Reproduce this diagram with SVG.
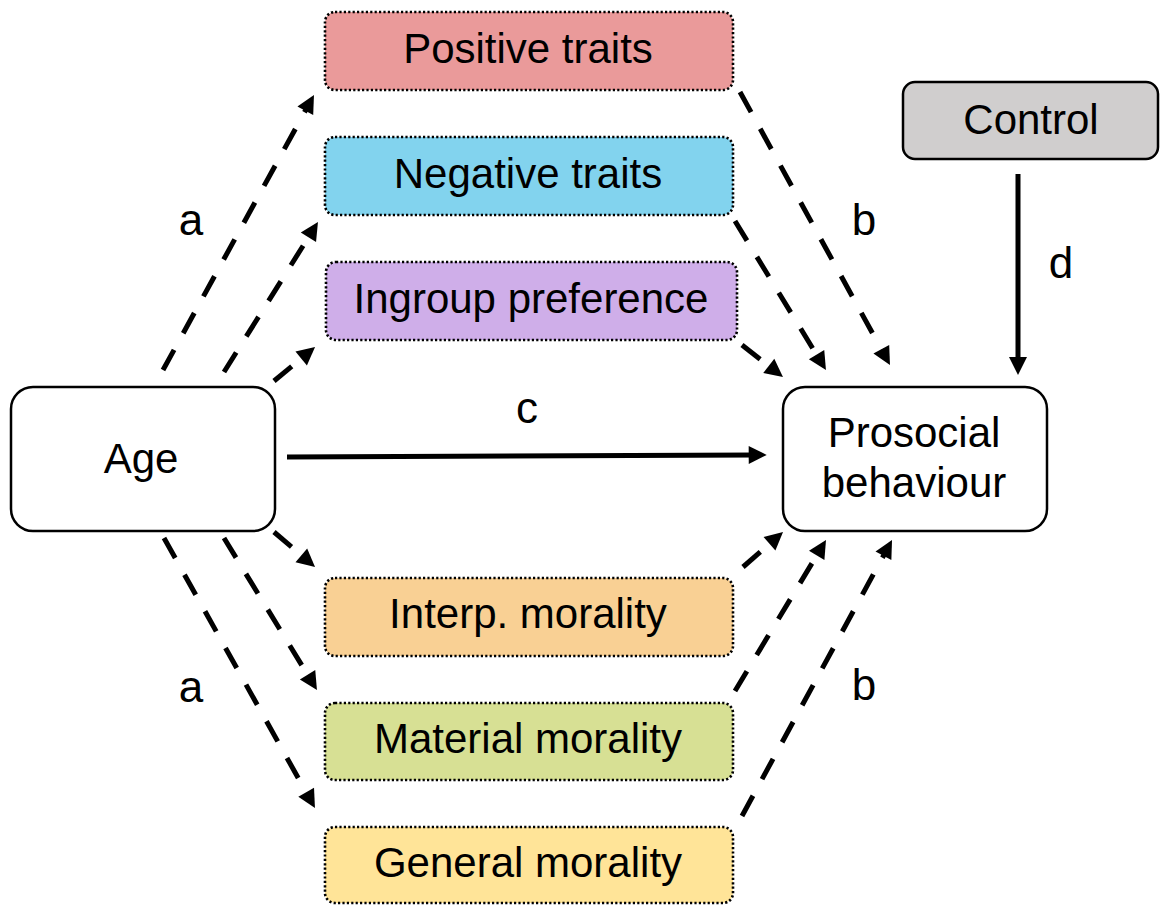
<svg xmlns="http://www.w3.org/2000/svg" width="1160" height="910" viewBox="0 0 1160 910">
<style>
  .lbl { font-family: "Liberation Sans", Arial, sans-serif; font-size: 42px; fill: #000; text-anchor: middle; }
  .path-lbl { font-family: "Liberation Sans", Arial, sans-serif; font-size: 44px; fill: #000; text-anchor: middle; }
  .med { stroke: #000; stroke-width: 2.6; stroke-dasharray: 2.2 2.2; }
  .main { fill: #fff; stroke: #000; stroke-width: 2.5; }
  .dash { fill: none; stroke: #000; stroke-width: 5; stroke-dasharray: 23 19; marker-end: url(#ah); }
  .solid { fill: none; stroke: #000; stroke-width: 5; marker-end: url(#ah); }
</style>
<defs>
  <marker id="ah" markerUnits="userSpaceOnUse" markerWidth="18" markerHeight="18" refX="6" refY="9" orient="auto" overflow="visible">
    <path d="M0,0 L18,9 L0,18 z" fill="#000"/>
  </marker>
</defs>
<rect width="1160" height="910" fill="#fff"/>

<g id="connectors">
  <line class="dash" x1="163" y1="370" x2="308.2" y2="105.5"/>
  <line class="dash" x1="224" y1="372" x2="311.6" y2="232.2"/>
  <line class="dash" x1="274" y1="381" x2="305.8" y2="354.7"/>
  <line class="dash" x1="274" y1="532" x2="305.9" y2="559.2"/>
  <line class="dash" x1="224" y1="538" x2="310.7" y2="679.8"/>
  <line class="dash" x1="164" y1="538" x2="309.1" y2="797.5"/>
  <line class="dash" x1="740" y1="92" x2="884.2" y2="354.5"/>
  <line class="dash" x1="735" y1="221" x2="819.7" y2="359.8"/>
  <line class="dash" x1="742" y1="345" x2="773.5" y2="369.6"/>
  <line class="dash" x1="743" y1="567" x2="774" y2="539.9"/>
  <line class="dash" x1="735" y1="691" x2="819.8" y2="550.3"/>
  <line class="dash" x1="742" y1="816" x2="886.3" y2="550.5"/>
  <line class="solid" x1="287" y1="457" x2="754.7" y2="455"/>
  <line class="solid" x1="1018" y1="174" x2="1018" y2="363"/>
  <text class="path-lbl" x="191" y="235">a</text>
  <text class="path-lbl" x="191" y="702">a</text>
  <text class="path-lbl" x="864" y="235">b</text>
  <text class="path-lbl" x="864" y="700">b</text>
  <text class="path-lbl" x="527" y="423">c</text>
  <text class="path-lbl" x="1061" y="278">d</text>
</g>

<g id="node-positive">
  <rect class="med" x="325" y="12" width="408" height="78" rx="10" fill="#EA9A9A"/>
  <text class="lbl" x="528" y="63">Positive traits</text>
</g>
<g id="node-negative">
  <rect class="med" x="325" y="137" width="408" height="78" rx="10" fill="#82D3EE"/>
  <text class="lbl" x="528" y="188">Negative traits</text>
</g>
<g id="node-ingroup">
  <rect class="med" x="326" y="262" width="411" height="78" rx="10" fill="#CFAEE9"/>
  <text class="lbl" x="531" y="313">Ingroup preference</text>
</g>
<g id="node-interp">
  <rect class="med" x="325" y="578" width="408" height="78" rx="10" fill="#F9D094"/>
  <text class="lbl" x="528" y="628">Interp. morality</text>
</g>
<g id="node-material">
  <rect class="med" x="325" y="703" width="408" height="77" rx="10" fill="#D7E094"/>
  <text class="lbl" x="528" y="753">Material morality</text>
</g>
<g id="node-general">
  <rect class="med" x="325" y="827" width="408" height="76" rx="10" fill="#FFE498"/>
  <text class="lbl" x="528" y="877">General morality</text>
</g>
<g id="node-age">
  <rect class="main" x="11" y="387" width="264" height="144" rx="22"/>
  <text class="lbl" x="141" y="473">Age</text>
</g>
<g id="node-prosocial">
  <rect class="main" x="783" y="387" width="264" height="144" rx="22"/>
  <text class="lbl" x="914" y="447">Prosocial</text>
  <text class="lbl" x="914" y="497">behaviour</text>
</g>
<g id="node-control">
  <rect class="main" x="903" y="82" width="255" height="77" rx="12" style="fill:#D0CECE"/>
  <text class="lbl" x="1031" y="134">Control</text>
</g>
</svg>
